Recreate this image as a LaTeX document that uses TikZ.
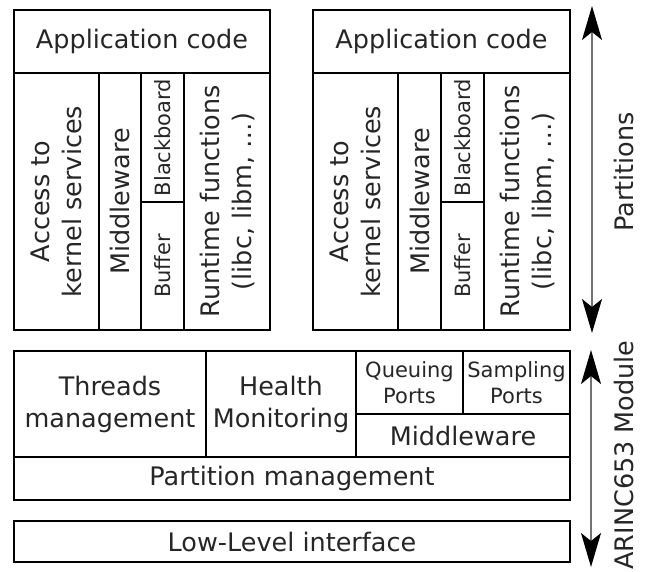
\documentclass[tikz,border=0pt]{standalone}
\usepackage{fontspec}
\setmainfont{DejaVu Sans}
\usetikzlibrary{arrows.meta}
\begin{document}
\begin{tikzpicture}[x=1pt,y=-1pt,
  box/.style={draw=black, line width=1.8pt, inner sep=0pt, outer sep=0pt,
    align=center, text=black!85, font=\fontsize{25.5}{32}\selectfont},
  smallbox/.style={box, font=\fontsize{21}{26}\selectfont},
  vbox/.style={box, rotate=90},
  vsmall/.style={smallbox, rotate=90},
  span/.style={draw=black!55, line width=1.6pt, {Stealth[length=34pt, width=20pt, inset=8pt, color=black]}-{Stealth[length=34pt, width=20pt, inset=8pt, color=black]}},
  sidelabel/.style={rotate=90, inner sep=0pt, text=black!85, font=\fontsize{25.5}{32}\selectfont}
]
\useasboundingbox (0,0) rectangle (647,571);

% ---- first partition ----
\node[box, minimum width=256, minimum height=63] (appL) at (142,41.5) {Application code};
\node[vbox, minimum width=257, minimum height=85] (kernL) at (56.5,201.5) {Access to\\kernel services};
\node[vbox, minimum width=257, minimum height=42] (mwL) at (120,201.5) {Middleware};
\node[vsmall, minimum width=129, minimum height=43] (bbL) at (162.5,137.5) {Blackboard};
\node[vsmall, minimum width=128, minimum height=43] (bufL) at (162.5,266) {Buffer};
\node[vbox, minimum width=257, minimum height=86] (rtL) at (227,201.5) {Runtime functions\\(libc, libm, …)};

% ---- second partition ----
\node[box, minimum width=257, minimum height=63] (appR) at (441.5,41.5) {Application code};
\node[vbox, minimum width=257, minimum height=85] (kernR) at (355.5,201.5) {Access to\\kernel services};
\node[vbox, minimum width=257, minimum height=43] (mwR) at (419.5,201.5) {Middleware};
\node[vsmall, minimum width=129, minimum height=43] (bbR) at (462.5,137.5) {Blackboard};
\node[vsmall, minimum width=128, minimum height=43] (bufR) at (462.5,266) {Buffer};
\node[vbox, minimum width=257, minimum height=86] (rtR) at (527,201.5) {Runtime functions\\(libc, libm, …)};

% ---- ARINC653 module ----
\node[box, minimum width=192, minimum height=106] (threads) at (110,404) {Threads\\management};
\node[box, minimum width=150, minimum height=106] (health) at (281,404) {Health\\Monitoring};
\node[smallbox, minimum width=107, minimum height=63] (queuing) at (409.5,382.5) {Queuing\\Ports};
\node[smallbox, minimum width=107, minimum height=63] (sampling) at (516.5,382.5) {Sampling\\Ports};
\node[box, minimum width=214, minimum height=43] (mwMod) at (463,435.5) {Middleware};
\node[box, minimum width=556, minimum height=43] (partMgmt) at (292,478.5) {Partition management};
\node[box, minimum width=556, minimum height=41] (lowLevel) at (292,541.5) {Low-Level interface};

% ---- extent arrows and their labels ----
\coordinate (partTop) at (592,6);
\coordinate (partBot) at (592,333);
\coordinate (modTop) at (591,350);
\coordinate (modBot) at (591,567);
\draw[span] (partTop) -- (partBot);
\draw[span] (modTop) -- (modBot);
\node[sidelabel] (partLabel) at (624,172) {Partitions};
\node[sidelabel] (modLabel) at (624,455) {ARINC653 Module};
\end{tikzpicture}
\end{document}
